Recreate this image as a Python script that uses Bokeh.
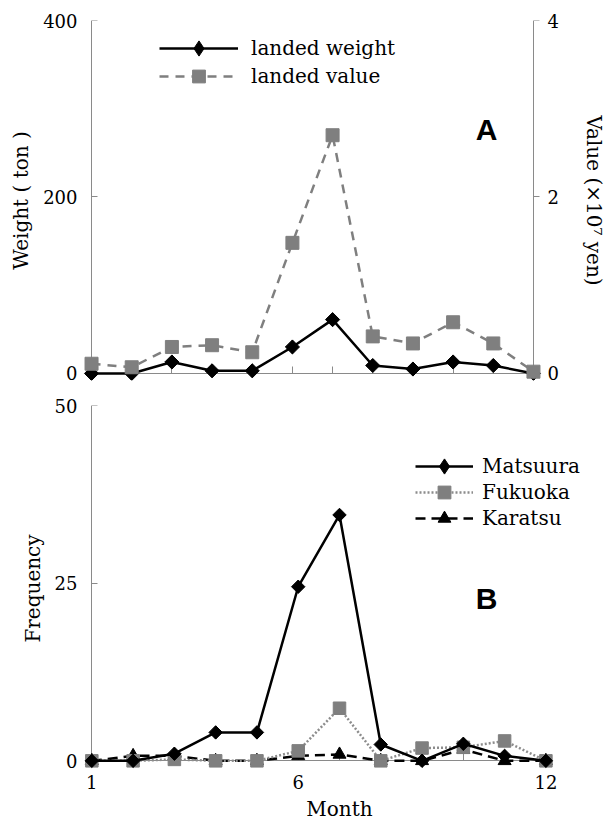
import math
from bokeh.plotting import figure
from bokeh.models import Range1d, LinearAxis, FixedTicker, Legend, LegendItem, Label
from bokeh.layouts import column
from bokeh.embed import file_html
from bokeh.resources import INLINE

# ---- data ----
months = [1, 2, 3, 4, 5, 6, 7, 8, 9, 10, 11, 12]
landed_weight = [0, 0, 13, 3, 3, 30, 61, 9, 5, 13, 9, 0]                       # ton
landed_value = [0.11, 0.07, 0.30, 0.32, 0.24, 1.48, 2.70, 0.42, 0.34, 0.58, 0.34, 0.02]  # x10^7 yen
matsuura = [0, 0, 1, 4, 4, 24.5, 34.6, 2.3, 0, 2.4, 0.7, 0]
fukuoka = [0, 0, 0.2, 0, 0, 1.4, 7.4, 0, 1.8, 1.9, 2.8, 0]
karatsu = [0, 0.7, 0.7, 0, 0, 0.7, 0.9, 0, 0, 1.6, 0, 0]

weight_ticks = [0, 200, 400]
value_ticks = [0, 2, 4]
freq_ticks = [0, 25, 50]
month_ticks = [1, 6, 12]

SERIF = "DejaVu Serif"
AXIS_GRAY = "#8a8a8a"
GRAY = "#7f7f7f"


def label_axis(ax, standoff, label_standoff):
    """axis that only carries tick labels and the axis title"""
    ax.axis_line_color = None
    ax.major_tick_line_color = None
    ax.minor_tick_line_color = None
    ax.major_tick_in = 0
    ax.major_tick_out = 0
    ax.major_label_text_font = SERIF
    ax.major_label_text_font_size = "18px"
    ax.major_label_text_color = "black"
    ax.major_label_standoff = standoff
    ax.axis_label_text_font = SERIF
    ax.axis_label_text_font_size = "20px"
    ax.axis_label_text_font_style = "normal"
    ax.axis_label_text_color = "black"
    ax.axis_label_standoff = label_standoff


def line_axis(ax, tick_in, tick_out):
    """axis drawn at a data position: line and ticks only"""
    ax.axis_line_color = AXIS_GRAY
    ax.axis_line_width = 1
    ax.major_tick_line_color = AXIS_GRAY
    ax.minor_tick_line_color = None
    ax.major_tick_in = tick_in
    ax.major_tick_out = tick_out
    ax.major_label_text_color = None
    ax.major_label_text_font_size = "1px"
    ax.major_label_standoff = 0
    ax.level = "underlay"


def key(label, renderers, loc, glyph_w, glyph_h, standoff):
    """one legend entry (own legend so each key can have its own marker size)"""
    return Legend(items=[LegendItem(label=label, renderers=renderers)],
                  location=loc, glyph_width=glyph_w, glyph_height=glyph_h, label_height=20,
                  label_standoff=standoff, spacing=0, padding=0, margin=0,
                  border_line_color=None, background_fill_alpha=0,
                  label_text_font=SERIF, label_text_font_size="20px",
                  label_text_color="black")


# ================= Panel A =================
top = figure(frame_width=462, frame_height=360,
             min_border_left=81, min_border_right=64,
             min_border_top=20, min_border_bottom=5,
             x_range=Range1d(0.75, 12.25), y_range=Range1d(-8, 400),
             x_axis_type=None, y_axis_type=None,
             output_backend="svg", toolbar_location=None)
top.outline_line_color = None
top.extra_y_ranges = {"val": Range1d(-0.08, 4.0)}

lab_w = LinearAxis(ticker=FixedTicker(ticks=weight_ticks), axis_label="Weight ( ton )")
label_axis(lab_w, 4, 7)
top.add_layout(lab_w, "left")

lab_v = LinearAxis(y_range_name="val", ticker=FixedTicker(ticks=value_ticks),
                   axis_label="Value (×10⁷ yen)")
label_axis(lab_v, 4, 20)
top.add_layout(lab_v, "right")

ax_w = LinearAxis(fixed_location=1, bounds=(0, 400), ticker=FixedTicker(ticks=weight_ticks))
line_axis(ax_w, 6, 0)
top.add_layout(ax_w, "left")

# right-hand value axis line (kept in the left panel so it takes no room on the right)
ax_v = LinearAxis(y_range_name="val", fixed_location=12, bounds=(0, 4),
                  ticker=FixedTicker(ticks=value_ticks))
line_axis(ax_v, 6, 0)
top.add_layout(ax_v, "left")

ax_m = LinearAxis(fixed_location=0, bounds=(1, 12), ticker=FixedTicker(ticks=months))
line_axis(ax_m, 7, 0)
top.add_layout(ax_m, "below")

lw_line = top.line(months, landed_weight, line_color="black", line_width=2.5)
lw_key = top.scatter(months, landed_weight, marker="diamond", size=13,
                     fill_color="black", line_color="black")
top.scatter(months, landed_weight, marker="square", angle=math.pi / 4, size=10,
            fill_color="black", line_color="black")
lv_line = top.line(months, landed_value, y_range_name="val", line_color=GRAY, line_width=2.5,
                   line_dash="9 7")
lv_mark = top.scatter(months, landed_value, y_range_name="val", marker="square", size=13,
                      fill_color=GRAY, line_color=GRAY)

top.add_layout(key("landed weight", [lw_line, lw_key], (78, 313), 79, 38, 13))
top.add_layout(key("landed value", [lv_line, lv_mark], (78, 288), 79, 32, 13))

top.add_layout(Label(x=405, y=251, x_units="screen", y_units="screen", text="A",
                     text_font="Liberation Sans", text_font_style="bold", text_font_size="30px",
                     text_color="black", text_align="center", text_baseline="middle"))

# ================= Panel B =================
bot = figure(frame_width=516, frame_height=366,
             min_border_left=81, min_border_right=10,
             min_border_top=20, min_border_bottom=50,
             x_range=Range1d(0.75, 13.25), y_range=Range1d(-1.5, 50),
             x_axis_type=None, y_axis_type=None,
             output_backend="svg", toolbar_location=None)
bot.outline_line_color = None

lab_f = LinearAxis(ticker=FixedTicker(ticks=freq_ticks), axis_label="Frequency")
label_axis(lab_f, 4, 7)
bot.add_layout(lab_f, "left")

lab_b = LinearAxis(ticker=FixedTicker(ticks=month_ticks), axis_label="Month")
label_axis(lab_b, 3, 5)
bot.add_layout(lab_b, "below")

ax_f = LinearAxis(fixed_location=1, bounds=(0, 50), ticker=FixedTicker(ticks=freq_ticks))
line_axis(ax_f, 6, 0)
bot.add_layout(ax_f, "left")

ax_b = LinearAxis(fixed_location=0, bounds=(1, 12), ticker=FixedTicker(ticks=months))
line_axis(ax_b, 7, 0)
bot.add_layout(ax_b, "below")

ka_line = bot.line(months, karatsu, line_color="black", line_width=2.5, line_dash="10 6")
ka_mark = bot.scatter(months, karatsu, marker="triangle", size=13,
                      fill_color="black", line_color="black")
fu_line = bot.line(months, fukuoka, line_color="#8c8c8c", line_width=2.5, line_dash="2 2")
fu_mark = bot.scatter(months, fukuoka, marker="square", size=12.5,
                      fill_color=GRAY, line_color=GRAY)
ma_line = bot.line(months, matsuura, line_color="black", line_width=2.5)
ma_key = bot.scatter(months, matsuura, marker="diamond", size=12,
                     fill_color="black", line_color="black")
bot.scatter(months, matsuura, marker="square", angle=math.pi / 4, size=9.5,
            fill_color="black", line_color="black")

bot.add_layout(key("Matsuura", [ma_line, ma_key], (334, 286), 58, 38, 9))
bot.add_layout(key("Fukuoka", [fu_line, fu_mark], (334, 263), 58, 32, 9))
bot.add_layout(key("Karatsu", [ka_line, ka_mark], (334, 237), 58, 32, 9))

bot.add_layout(Label(x=405, y=173, x_units="screen", y_units="screen", text="B",
                     text_font="Liberation Sans", text_font_style="bold", text_font_size="30px",
                     text_color="black", text_align="center", text_baseline="middle"))

layout = column(top, bot, spacing=0)
open("out.html", "w").write(file_html(layout, INLINE))
